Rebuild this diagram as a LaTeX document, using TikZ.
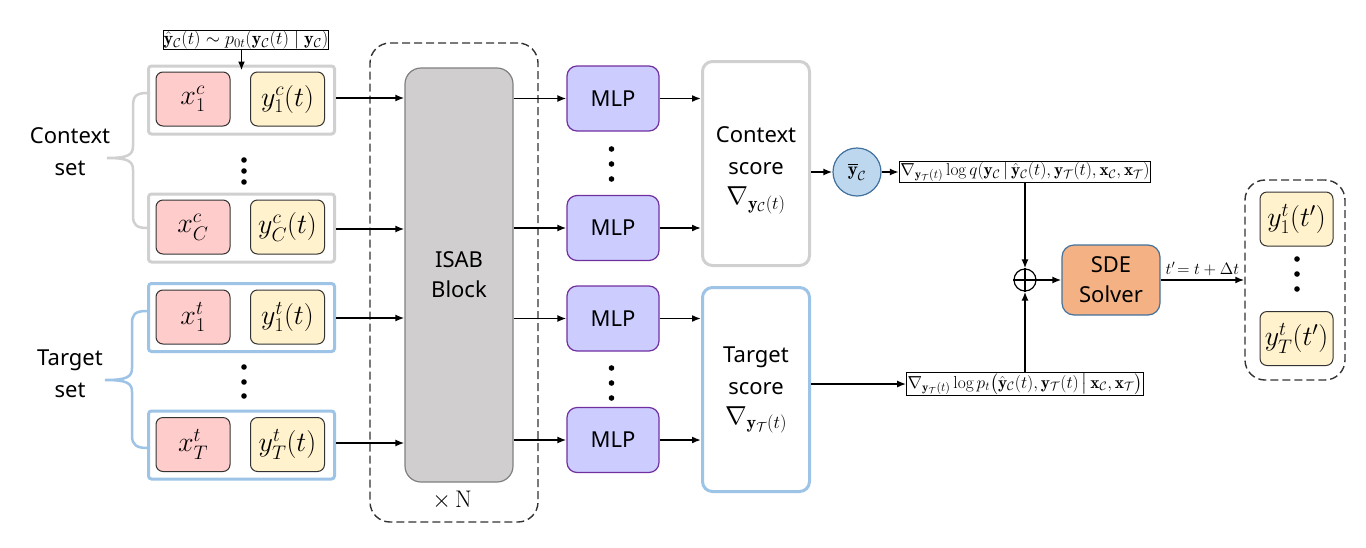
\documentclass[tikz,border=0pt]{standalone}
\usepackage{fix-cm}
\usepackage{amsmath,amssymb}
\usepackage{fontspec}
\newfontfamily\labfont{Noto Sans}
\usetikzlibrary{arrows.meta}
\definecolor{xred}{HTML}{FFCCCC}
\definecolor{yyel}{HTML}{FFF2CC}
\definecolor{grpgray}{HTML}{D0D0D0}
\definecolor{grpblue}{HTML}{9DC3E6}
\definecolor{isabfill}{HTML}{D0CECE}
\definecolor{mlpfill}{HTML}{CCCCFF}
\definecolor{mlpdraw}{HTML}{7030A0}
\definecolor{circfill}{HTML}{BDD7EE}
\definecolor{bluedraw}{HTML}{41719C}
\definecolor{sdefill}{HTML}{F4B183}
\begin{document}
\begin{tikzpicture}[x=1pt,y=-1pt,
  arr/.style={-{Latex[length=9pt,width=7pt]},line width=1.7pt},
  xbox/.style={draw=black!80,fill=xred,rounded corners=7pt,minimum width=74pt,minimum height=54pt,line width=1pt,font=\fontsize{28}{30}\selectfont},
  ybox/.style={draw=black!80,fill=yyel,rounded corners=7pt,minimum width=74pt,minimum height=54pt,line width=1pt,font=\fontsize{28}{30}\selectfont},
  cgrp/.style={draw=grpgray,line width=3pt,rounded corners=3pt,minimum width=186pt,minimum height=68pt},
  tgrp/.style={draw=grpblue,line width=3pt,rounded corners=3pt,minimum width=186pt,minimum height=68pt},
  mlpbox/.style={draw=mlpdraw,fill=mlpfill,line width=1.2pt,rounded corners=10pt,minimum width=92pt,minimum height=65pt,font=\labfont\fontsize{22}{24}\selectfont},
  scorebox/.style={line width=3pt,rounded corners=10pt,minimum width=107pt,minimum height=204pt},
  scoretext/.style={align=center,font=\labfont\fontsize{22}{32}\selectfont},
  eqbox/.style={draw,line width=1pt,inner sep=1pt,font=\fontsize{17.4}{19}\selectfont},
  settext/.style={align=center,font=\labfont\fontsize{22}{32}\selectfont},
  dashbox/.style={draw=black!80,dash pattern=on 8pt off 4pt,line width=1.4pt,rounded corners=20pt},
  dotc/.style={fill=black}
]
\useasboundingbox (0,0) rectangle (1366,547);

% dashed repeat box
\node[dashbox,minimum width=168pt,minimum height=479pt] (rep) at (454,282.5) {};
\node[font=\fontsize{24}{26}\selectfont] (xn) at (452,500) {$\times$\,N};

% context groups
\node[cgrp] (gc1) at (241.5,100) {};
\node[cgrp] (gc2) at (241.5,228) {};
\node[tgrp] (gt1) at (241.5,317.5) {};
\node[tgrp] (gt2) at (241.5,445) {};

\node[xbox] (xc1) at (193,99) {$x_1^c$};
\node[ybox] (yc1) at (287.5,99) {$y_1^c(t)$};
\node[xbox] (xc2) at (193,227) {$x_C^c$};
\node[ybox] (yc2) at (287.5,227) {$y_C^c(t)$};
\node[xbox] (xt1) at (193,317) {$x_1^t$};
\node[ybox] (yt1) at (287.5,317) {$y_1^t(t)$};
\node[xbox] (xt2) at (193,444.5) {$x_T^t$};
\node[ybox] (yt2) at (287.5,444.5) {$y_T^t(t)$};

% dots
\foreach \yy in {160,171,182} \fill[dotc] (244,\yy) circle (2.8);
\foreach \yy in {367,382,396} \fill[dotc] (244,\yy) circle (2.8);
\foreach \yy in {149,164,179,368,383,398} \fill[dotc] (611.5,\yy) circle (2.8);
\foreach \yy in {259,274,289} \fill[dotc] (1297,\yy) circle (2.8);

% top label
\node[eqbox,font=\fontsize{18.3}{20}\selectfont,inner sep=0.5pt] (lbl) at (246,40) {$\hat{\mathbf{y}}_\mathcal{C}(t)\sim p_{0t}(\mathbf{y}_\mathcal{C}(t)\mid\mathbf{y}_\mathcal{C})$};
\draw[arr,shorten >=-6pt] (lbl.south -| gc1.north) -- (gc1.north);

% braces
\draw[grpgray,line width=2.5pt] (gc1.west |- 0,93) .. controls (134,93) and (133,98) .. (133,108) -- (133,146) .. controls (133,155) and (128,158) .. (107,158) .. controls (128,158) and (133,161) .. (133,170) -- (133,216) .. controls (133,225) and (137,228) .. (gc2.west);
\draw[grpblue,line width=2.5pt] (gt1.west |- 0,311) .. controls (134,311) and (132,315) .. (132,324) -- (132,368) .. controls (132,377) and (127,380) .. (105,380) .. controls (127,380) and (132,383) .. (132,392) -- (132,436) .. controls (132,445) and (137,448) .. (gt2.west |- 0,448);
\node[settext] (ctx) at (70,152) {Context\\set};
\node[settext] (tgt) at (70,374) {Target\\set};

% ISAB
\node[draw=black!50,fill=isabfill,line width=1.2pt,rounded corners=16pt,minimum width=108pt,minimum height=414pt,align=center,font=\labfont\fontsize{22}{30}\selectfont] (isab) at (459,275) {ISAB\\Block};

\draw[arr] (gc1.east |- 0,98) -- (isab.west |- 0,98);
\draw[arr] (gc2.east |- 0,229) -- (isab.west |- 0,229);
\draw[arr] (gt1.east |- 0,318) -- (isab.west |- 0,318);
\draw[arr] (gt2.east |- 0,443) -- (isab.west |- 0,443);

% MLPs
\node[mlpbox] (m1) at (613,98.5) {MLP};
\node[mlpbox] (m2) at (613,228) {MLP};
\node[mlpbox] (m3) at (613,318.5) {MLP};
\node[mlpbox] (m4) at (613,440) {MLP};

\draw[arr] (isab.east |- m1.west) -- (m1.west);
\draw[arr] (isab.east |- m2.west) -- (m2.west);
\draw[arr] (isab.east |- m3.west) -- (m3.west);
\draw[arr] (isab.east |- m4.west) -- (m4.west);

% scores
\node[scorebox,draw=grpgray] (cs) at (756,163.5) {};
\node[scoretext] (cst) at (756,170) {Context\\score\\[-2pt]{\fontsize{26}{28}\selectfont$\nabla_{\mathbf{y}_\mathcal{C}(t)}$}};
\node[scorebox,draw=grpblue] (ts) at (756,389.5) {};
\node[scoretext] (tst) at (756,390) {Target\\score\\[-2pt]{\fontsize{26}{28}\selectfont$\nabla_{\mathbf{y}_\mathcal{T}(t)}$}};

\draw[arr] (m1.east) -- (m1.east -| cs.west);
\draw[arr] (m2.east) -- (m2.east -| cs.west);
\draw[arr] (m3.east) -- (m3.east -| ts.west);
\draw[arr] (m4.east) -- (m4.east -| ts.west);

% ybar circle
\node[circle,draw=bluedraw,fill=circfill,line width=1.2pt,minimum size=48pt,inner sep=0pt,font=\fontsize{19}{21}\selectfont] (yb) at (857,172) {$\overline{\mathbf{y}}_\mathcal{C}$};
\draw[arr] (cs.east |- yb.west) -- (yb.west);

% equation boxes
\node[eqbox] (qb) at (1025,172) {$\nabla_{\mathbf{y}_\mathcal{T}(t)}\log q(\mathbf{y}_\mathcal{C}\,|\,\hat{\mathbf{y}}_\mathcal{C}(t),\mathbf{y}_\mathcal{T}(t),\mathbf{x}_\mathcal{C},\mathbf{x}_\mathcal{T})$};
\node[eqbox] (pb) at (1025,384) {$\nabla_{\mathbf{y}_\mathcal{T}(t)}\log p_t\big(\hat{\mathbf{y}}_\mathcal{C}(t),\mathbf{y}_\mathcal{T}(t)\,\big|\,\mathbf{x}_\mathcal{C},\mathbf{x}_\mathcal{T}\big)$};
\draw[arr] (yb.east) -- (qb.west);
\draw[arr] (pb.west -| ts.east) -- (pb.west);

% oplus
\node[circle,draw,line width=1.2pt,minimum size=22pt,inner sep=0pt] (op) at (1025,280) {};
\draw[line width=1.2pt] (op.north) -- (op.south) (op.west) -- (op.east);
\draw[arr] (qb.south) -- (op.north);
\draw[arr] (pb.north) -- (op.south);

% SDE solver
\node[draw=bluedraw,fill=sdefill,line width=1.2pt,rounded corners=12pt,minimum width=98pt,minimum height=70pt,align=center,font=\labfont\fontsize{22}{30}\selectfont] (sde) at (1111,280) {SDE\\Solver};
\draw[arr] (op.east) -- (sde.west);

% output
\node[dashbox,minimum width=100pt,minimum height=200pt] (out) at (1295,280) {};
\node[ybox,minimum width=73pt] (o1) at (1296.5,219) {$y_1^t(t')$};
\node[ybox,minimum width=73pt] (o2) at (1296.5,338.5) {$y_T^t(t')$};
\draw[arr] (sde.east) -- node[above,font=\fontsize{16.5}{18}\selectfont,inner sep=3pt] {$t'\!=t+\Delta t$} (out.west);
\end{tikzpicture}
\end{document}
